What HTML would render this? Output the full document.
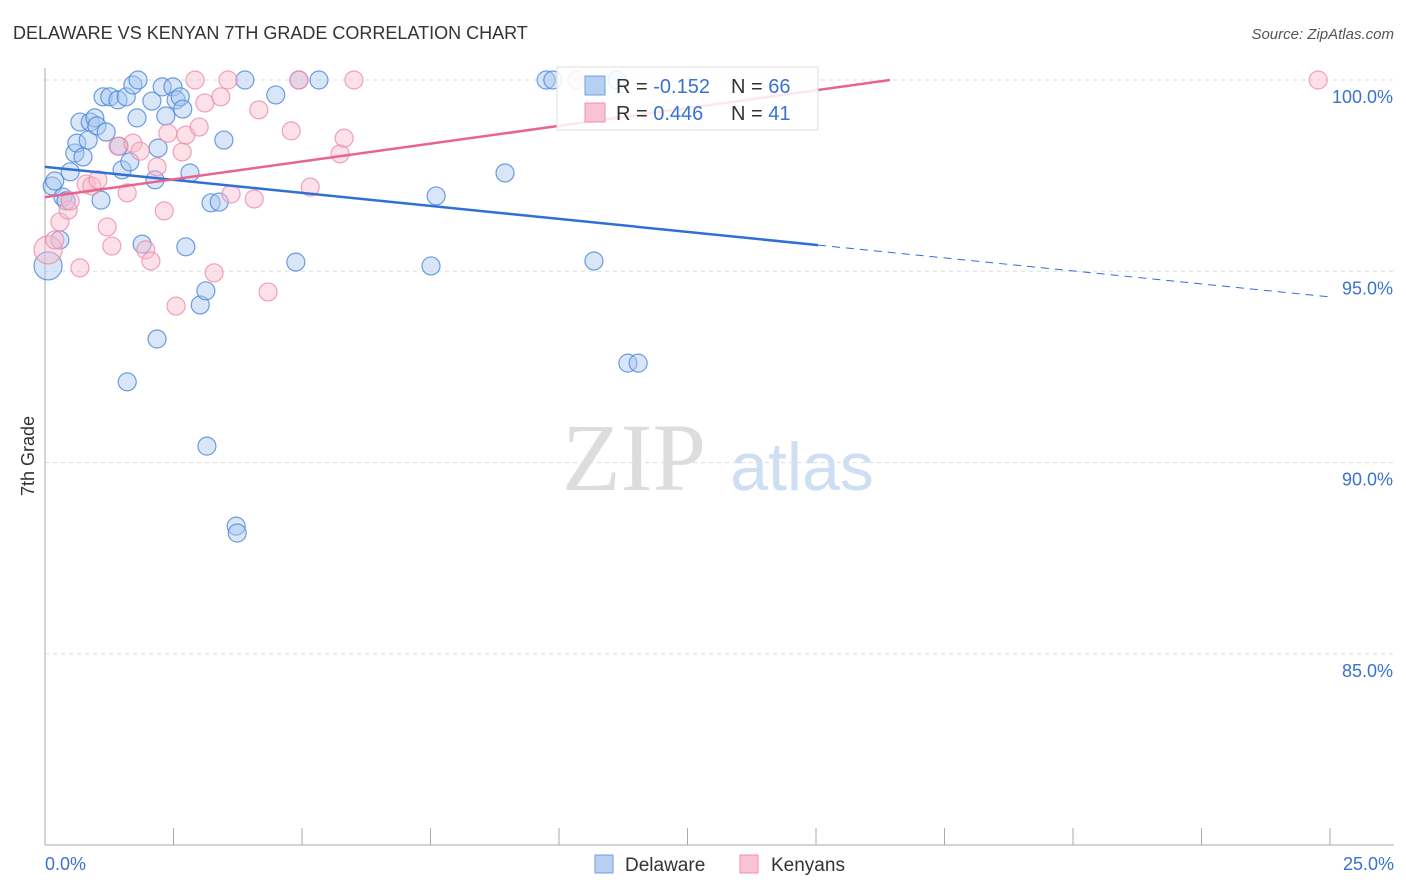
<!DOCTYPE html>
<html><head><meta charset="utf-8"><style>
body{margin:0;background:#fff;font-family:"Liberation Sans",sans-serif;}
svg{display:block}
</style></head><body>
<svg id="chart" width="1406" height="892">
<text x="13" y="39" font-size="18" fill="#333">DELAWARE VS KENYAN 7TH GRADE CORRELATION CHART</text>
<text x="1394" y="39" font-size="15" fill="#555" font-style="italic" text-anchor="end">Source: ZipAtlas.com</text>
<g>
<text x="634" y="490" font-size="96" fill="#ddd" font-family="Liberation Serif,serif" text-anchor="middle">ZIP</text>
<text x="802" y="490" font-size="68" fill="#cfdff3" text-anchor="middle">atlas</text>
</g>
<g id="grid"></g>
<g id="axes"></g>
<g id="marks"></g>
<g id="lines"></g>
<g>
<rect x="557" y="67" width="261" height="63" fill="#fff" fill-opacity="0.85" stroke="#ddd"/>
<rect x="585" y="76" width="20" height="19" fill="#b7d0f1" stroke="#6fa0e0"/>
<rect x="585" y="103" width="20" height="19" fill="#f9c3d3" stroke="#f08fae"/>
<text x="616" y="93" font-size="20" fill="#333">R = <tspan fill="#3a72d0">-0.152</tspan></text>
<text x="731" y="93" font-size="20" fill="#333">N = <tspan fill="#3a72d0">66</tspan></text>
<text x="616" y="120" font-size="20" fill="#333">R = <tspan fill="#3a72d0"> 0.446</tspan></text>
<text x="731" y="120" font-size="20" fill="#333">N = <tspan fill="#3a72d0"> 41</tspan></text>
</g>
<text transform="translate(34,456) rotate(-90)" font-size="18" fill="#333" text-anchor="middle">7th Grade</text>
<text x="45" y="870" font-size="18" fill="#3a72d0">0.0%</text>
<text x="1394" y="870" font-size="18" fill="#3a72d0" text-anchor="end">25.0%</text>
<g>
<rect x="595" y="855" width="18" height="18" fill="#b7d0f1" stroke="#6fa0e0"/>
<text x="625" y="871" font-size="19" fill="#333">Delaware</text></g>
<g>
<rect x="740" y="855" width="18" height="18" fill="#f9c3d3" stroke="#f08fae"/>
<text x="771" y="871" font-size="19" fill="#333">Kenyans</text></g>
</svg>
<script>
const yTicks=[100,95,90,85];
const blueX=[0.06,0.14,0.19,0.29,0.35,0.41,0.49,0.58,0.62,0.68,0.74,0.84,0.88,0.97,1.01,1.09,1.13,1.19,1.26,1.42,1.44,1.50,1.58,1.60,1.65,1.71,1.79,1.81,1.89,2.08,2.14,2.18,2.20,2.28,2.35,2.49,2.55,2.63,2.68,2.74,2.82,3.02,3.13,3.15,3.23,3.39,3.48,3.72,3.74,3.89,4.49,4.88,4.94,5.33,7.51,7.61,8.95,9.75,9.88,10.68,11.13,11.34,11.54];
const blueY=[95.14,97.23,97.36,95.82,96.94,96.84,97.60,98.09,98.35,98.90,97.99,98.43,98.90,99.01,98.80,96.86,99.56,98.64,99.56,99.48,98.27,97.65,99.56,92.11,97.86,99.87,99.01,100.0,95.71,99.45,97.39,93.23,98.22,99.82,99.06,99.82,99.48,99.56,99.24,95.64,97.57,94.12,94.49,90.43,96.79,96.81,98.43,88.34,88.16,100.0,99.61,95.24,100.0,100.0,95.14,96.97,97.57,100.0,100.0,95.27,100.0,92.60,92.60];
const pinkX=[0.06,0.19,0.29,0.45,0.49,0.68,0.80,0.91,1.03,1.21,1.30,1.42,1.60,1.71,1.85,1.96,2.06,2.18,2.32,2.39,2.55,2.67,2.74,2.92,3.00,3.11,3.29,3.42,3.56,3.62,4.07,4.16,4.34,4.79,4.94,5.16,5.74,5.82,6.01,10.35,24.77];
const pinkY=[95.56,95.82,96.29,96.60,96.84,95.09,97.28,97.23,97.39,96.16,95.66,98.27,97.05,98.35,98.14,95.56,95.27,97.73,96.58,98.61,94.09,98.12,98.56,100.0,98.77,99.40,94.96,99.56,100.0,97.02,96.89,99.22,94.46,98.67,100.0,97.20,98.07,98.48,100.0,100.0,100.0];
const blueTrend=[97.73,94.33];
const blueSolidEnd=15.04;
const pinkTrend=[96.94,100.0];
const pinkEnd=16.44;

const NS="http://www.w3.org/2000/svg";
const X0=45,X1=1330,Y100=80,PXPER=38.26;
const sx=v=>X0+(X1-X0)*v/25;
const sy=v=>Y100+(100-v)*PXPER;
function mk(tag,attrs,parent){const e=document.createElementNS(NS,tag);for(const k in attrs)e.setAttribute(k,attrs[k]);parent.appendChild(e);return e;}
const grid=document.getElementById('grid'),axes=document.getElementById('axes'),marks=document.getElementById('marks'),lines=document.getElementById('lines');
yTicks.forEach(t=>{
 const l=mk('line',{x1:X0,x2:1394,y1:sy(t),y2:sy(t),stroke:'#ddd','stroke-dasharray':'4,4'},grid);
 
 
 const tx=mk('text',{x:1393,y:sy(t)+23,'font-size':18,fill:'#3a72d0','text-anchor':'end'},axes);
 tx.textContent=t.toFixed(1)+'%';
 
 
});
const ya=mk('line',{x1:X0,x2:X0,y1:68,y2:845,stroke:'#aaa'},axes);


const xa=mk('line',{x1:X0,x2:1394,y1:845,y2:845,stroke:'#aaa'},axes);


for(let i=0;i<=10;i++){const t=mk('line',{x1:sx(i*2.5),x2:sx(i*2.5),y1:828,y2:845,stroke:'#aaa'},axes);
 
 }
function pts(xs,ys,fill,stroke,name){xs.forEach((x,i)=>{
 const r=(x<0.1)?14:9;
 const c=mk('circle',{cx:sx(x),cy:sy(ys[i]),r:r,fill:fill,'fill-opacity':0.45,stroke:stroke,'stroke-width':1.2,'stroke-opacity':0.8},marks);
 
 
});}
pts(blueX,blueY,'#a9c8f0','#4a86d8','delaware-point');
pts(pinkX,pinkY,'#f9bccd','#ef8aab','kenyans-point');
const by=x=>blueTrend[0]+(blueTrend[1]-blueTrend[0])*x/25;
const b1=mk('line',{x1:sx(0),y1:sy(by(0)),x2:sx(blueSolidEnd),y2:sy(by(blueSolidEnd)),stroke:'#2f6fd6','stroke-width':2.5},lines);


const b2=mk('line',{x1:sx(blueSolidEnd),y1:sy(by(blueSolidEnd)),x2:sx(25),y2:sy(by(25)),stroke:'#2f6fd6','stroke-width':1,'stroke-dasharray':'8,6'},lines);


const p1=mk('line',{x1:sx(0),y1:sy(pinkTrend[0]),x2:sx(pinkEnd),y2:sy(pinkTrend[1]),stroke:'#e8648f','stroke-width':2.5},lines);


</script>
</body></html>
